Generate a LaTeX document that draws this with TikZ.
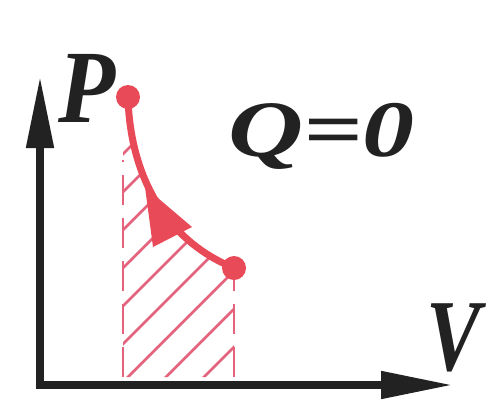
\documentclass[tikz,border=0pt]{standalone}
\usepackage{fontspec}
\usepackage{graphicx}
\setmainfont{Liberation Serif}
\usetikzlibrary{arrows.meta}
\definecolor{redc}{RGB}{232,74,88}
\definecolor{hatchc}{RGB}{228,98,124}
\definecolor{axisc}{RGB}{34,34,34}
\tikzset{
  axis/.style={draw=axisc, line width=8pt, line join=miter,
    arrows={Triangle[length=72pt,width=26pt]-Triangle[length=72pt,width=26pt]}},
  curve/.style={draw=redc, line width=7pt},
  dot/.style={circle, fill=redc, minimum size=24pt, inner sep=0pt},
  hatch/.style={draw=hatchc, line width=2.6pt},
  bound/.style={draw=hatchc, line width=2.8pt, dash pattern=on 30pt off 13pt},
  lab/.style={inner sep=0pt, text=axisc}
}
\begin{document}
\begin{tikzpicture}[x=1pt,y=-1pt]
\useasboundingbox[fill=white] (0,0) rectangle (489,399);
% coordinates
\coordinate (origin) at (40,385);
\coordinate (ytip) at (40,76);
\coordinate (xtip) at (453,385);
\coordinate (L0) at (123,377);
\coordinate (L1) at (123,160);
\coordinate (R0) at (234,377);
\coordinate (R1) at (234,278);
% hatching under the curve
\begin{scope}
  \clip (123,377) -- (123,100) -- (128,97) .. controls (130,175) and (165,240) .. (234,268) -- (234,377) -- cycle;
  \foreach \c in {154,192,230,268,306,344,382,420,458}{
    \draw[hatch] (73,\c+50) -- (373,\c-250);
  }
\end{scope}
% dashed boundaries
\draw[bound] (L0) -- (L1);
\draw[bound] (R0) -- (R1);
% axes
\draw[axis] (ytip) -- (origin) -- (xtip);
% process curve
\node[dot] (A) at (128,97) {};
\node[dot] (B) at (234,268) {};
\draw[curve] (A.center) .. controls (130,175) and (165,240) .. (B.center);
\fill[redc] (145,187) -- (153,247) -- (192,227) -- cycle;
% labels
\node[lab, anchor=base west] (P) at (58,122) {\fontsize{104}{104}\selectfont\bfseries\itshape\scalebox{0.9}[1]{P}};
\node[lab, anchor=base west] (Q) at (228,156) {\fontsize{80}{80}\selectfont\bfseries\itshape\scalebox{1.3}[1]{Q=0}};
\node[lab, anchor=base west] (V) at (426,370) {\fontsize{102}{102}\selectfont\bfseries\itshape\scalebox{0.8}[1]{V}};
\end{tikzpicture}
\end{document}
